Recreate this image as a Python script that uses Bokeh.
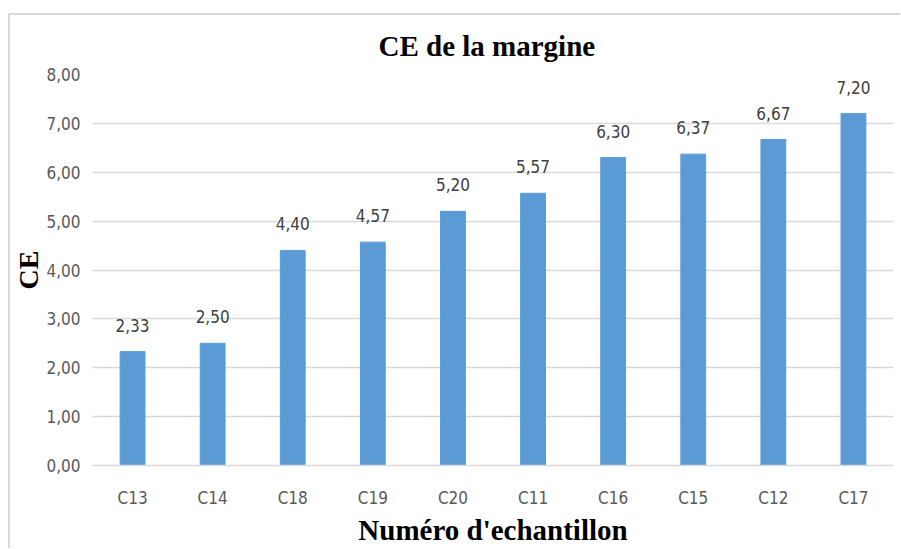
from bokeh.plotting import figure
from bokeh.models import ColumnDataSource, FixedTicker, CustomJSTickFormatter, LabelSet, Range1d, FactorRange
from bokeh.core.properties import value
from bokeh.embed import file_html
from bokeh.resources import INLINE

samples = ["C13", "C14", "C18", "C19", "C20", "C11", "C16", "C15", "C12", "C17"]
ce_values = [2.33, 2.50, 4.40, 4.57, 5.20, 5.57, 6.30, 6.37, 6.67, 7.20]
value_labels = ["2,33", "2,50", "4,40", "4,57", "5,20", "5,57", "6,30", "6,37", "6,67", "7,20"]
y_ticks = [0, 1, 2, 3, 4, 5, 6, 7, 8]

SANS = "DejaVu Sans Condensed"
SERIF = "Liberation Serif"

src = ColumnDataSource(dict(x=samples, y=ce_values, lab=value_labels))

p = figure(frame_width=801, frame_height=391, x_range=FactorRange(*samples, range_padding=0),
           y_range=Range1d(0, 8), output_backend="svg", toolbar_location=None,
           min_border_left=82, min_border_right=7, min_border_top=59, min_border_bottom=82,
           title="CE de la margine", margin=(13, 0, 0, 8),
           styles={"border-left": "2px solid #d9d9d9", "border-top": "2px solid #d9d9d9"})

p.title.align = "left"
p.title.text_font = SERIF
p.title.text_font_style = "bold"
p.title.text_font_size = "29px"
p.title.text_color = "#000000"
p.title.offset = 286
p.title.standoff = 25

p.vbar(x="x", top="y", width=0.31, source=src, color="#5B9BD5", line_color="#5B9BD5")

labels = LabelSet(x="x", y="y", text="lab", source=src, y_offset=20, text_align="center",
                  text_baseline="bottom", text_font=value(SANS),
                  text_font_size=value("17px"), text_color=value("#404040"))
p.add_layout(labels)

p.outline_line_color = None
p.background_fill_color = "white"
p.border_fill_color = "white"

p.xgrid.grid_line_color = None
p.ygrid.grid_line_color = "#d9d9d9"
p.ygrid.grid_line_width = 1.5

p.yaxis.ticker = FixedTicker(ticks=y_ticks)
p.yaxis.formatter = CustomJSTickFormatter(code="return tick.toFixed(2).replace('.', ',');")
p.yaxis.axis_line_color = None
p.yaxis.major_tick_line_color = None
p.yaxis.minor_tick_line_color = None
p.yaxis.major_tick_out = 0
p.yaxis.minor_tick_out = 0
p.yaxis.major_label_standoff = 12
p.yaxis.major_label_text_font = SANS
p.yaxis.major_label_text_font_size = "17px"
p.yaxis.major_label_text_color = "#595959"
p.yaxis.axis_label = "CE"
p.yaxis.axis_label_text_font = SERIF
p.yaxis.axis_label_text_font_style = "bold"
p.yaxis.axis_label_text_font_size = "28px"
p.yaxis.axis_label_text_color = "#000000"
p.yaxis.axis_label_standoff = -1

p.xaxis.axis_line_color = "#d9d9d9"
p.xaxis.axis_line_width = 1.5
p.xaxis.major_tick_line_color = None
p.xaxis.minor_tick_line_color = None
p.xaxis.major_tick_out = 0
p.xaxis.minor_tick_out = 0
p.xaxis.major_label_standoff = 22
p.xaxis.major_label_text_font = SANS
p.xaxis.major_label_text_font_size = "17px"
p.xaxis.major_label_text_color = "#595959"
p.xaxis.axis_label = "Numéro d'echantillon"
p.xaxis.axis_label_text_font = SERIF
p.xaxis.axis_label_text_font_style = "bold"
p.xaxis.axis_label_text_font_size = "29px"
p.xaxis.axis_label_text_color = "#000000"
p.xaxis.axis_label_standoff = 3

open("out.html", "w").write(file_html(p, INLINE))
